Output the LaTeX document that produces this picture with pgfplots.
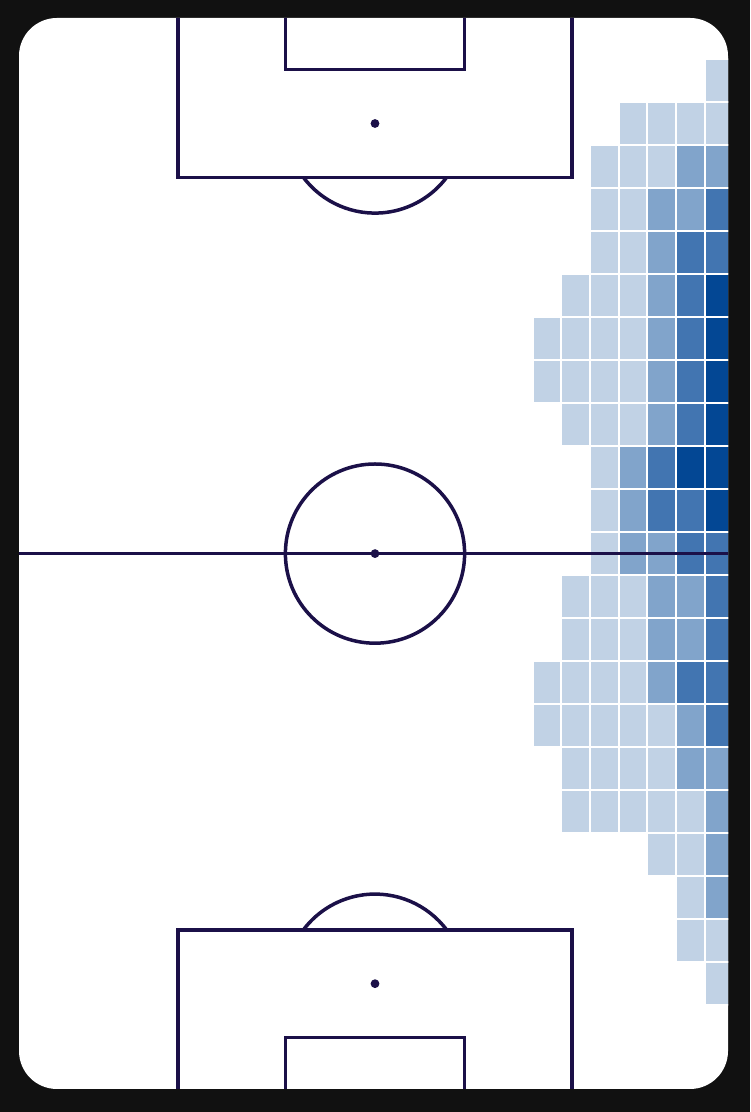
\documentclass[border=0pt]{standalone}
\usepackage{pgfplots}
\pgfplotsset{compat=1.18}
\definecolor{bg}{HTML}{111111}
\definecolor{pline}{HTML}{1B1048}
\definecolor{hA}{HTML}{C1D2E5}
\definecolor{hB}{HTML}{81A4CB}
\definecolor{hC}{HTML}{4275B1}
\definecolor{hD}{HTML}{034794}
% heatmap cell: 3.2 x 4.8 pitch units at 4.48pt per unit
\pgfdeclareplotmark{cell}{%
  \pgfpathrectangle{\pgfpoint{-7.168pt}{-10.752pt}}{\pgfpoint{14.336pt}{21.504pt}}%
  \pgfusepathqfillstroke}
\begin{document}
\begin{tikzpicture}
\useasboundingbox (0,0) rectangle (375pt,556pt);
\fill[bg] (0,0) rectangle (375pt,556pt);
\fill[white, rounded corners=19pt] (9.5pt,11.5pt) rectangle (364pt,547pt);
\begin{scope}
\clip[rounded corners=19pt] (9.5pt,11.5pt) rectangle (364pt,547pt);
\begin{axis}[at={(8.3pt,10.4pt)}, anchor=south west,
  x=4.48pt, y=4.48pt, xmin=0, xmax=80, ymin=0, ymax=120,
  hide axis, clip=false,
  every axis plot/.append style={only marks, mark=cell}]
% level 1 (lightest)
\addplot[mark options={fill=hA, draw=white, line width=1pt}] coordinates {
(78.4,112.8)
(68.8,108.0) (72.0,108.0) (75.2,108.0) (78.4,108.0)
(65.6,103.2) (68.8,103.2) (72.0,103.2)
(65.6,98.4) (68.8,98.4)
(65.6,93.6) (68.8,93.6)
(62.4,88.8) (65.6,88.8) (68.8,88.8)
(59.2,84.0) (62.4,84.0) (65.6,84.0) (68.8,84.0)
(59.2,79.2) (62.4,79.2) (65.6,79.2) (68.8,79.2)
(62.4,74.4) (65.6,74.4) (68.8,74.4)
(65.6,69.6)
(65.6,64.8)
(65.6,60.0)
(62.4,55.2) (65.6,55.2) (68.8,55.2)
(62.4,50.4) (65.6,50.4) (68.8,50.4)
(59.2,45.6) (62.4,45.6) (65.6,45.6) (68.8,45.6)
(59.2,40.8) (62.4,40.8) (65.6,40.8) (68.8,40.8) (72.0,40.8)
(62.4,36.0) (65.6,36.0) (68.8,36.0) (72.0,36.0)
(62.4,31.2) (65.6,31.2) (68.8,31.2) (72.0,31.2) (75.2,31.2)
(72.0,26.4) (75.2,26.4)
(75.2,21.6)
(75.2,16.8) (78.4,16.8)
(78.4,12.0)
};
% level 2
\addplot[mark options={fill=hB, draw=white, line width=1pt}] coordinates {
(75.2,103.2) (78.4,103.2)
(72.0,98.4) (75.2,98.4)
(72.0,93.6)
(72.0,88.8)
(72.0,84.0)
(72.0,79.2)
(72.0,74.4)
(68.8,69.6)
(68.8,64.8)
(68.8,60.0) (72.0,60.0)
(72.0,55.2) (75.2,55.2)
(72.0,50.4) (75.2,50.4)
(72.0,45.6)
(75.2,40.8)
(75.2,36.0) (78.4,36.0)
(78.4,31.2)
(78.4,26.4)
(78.4,21.6)
};
% level 3
\addplot[mark options={fill=hC, draw=white, line width=1pt}] coordinates {
(78.4,98.4)
(75.2,93.6) (78.4,93.6)
(75.2,88.8)
(75.2,84.0)
(75.2,79.2)
(75.2,74.4)
(72.0,69.6)
(72.0,64.8) (75.2,64.8)
(75.2,60.0) (78.4,60.0)
(78.4,55.2)
(78.4,50.4)
(75.2,45.6) (78.4,45.6)
(78.4,40.8)
};
% level 4 (darkest)
\addplot[mark options={fill=hD, draw=white, line width=1pt}] coordinates {
(78.4,88.8)
(78.4,84.0)
(78.4,79.2)
(78.4,74.4)
(75.2,69.6) (78.4,69.6)
(78.4,64.8)
};
\end{axis}
% pitch markings, in pitch units (same origin and scale as the axis)
\begin{scope}[shift={(8.3pt,10.4pt)}, x=4.48pt, y=4.48pt,
  draw=pline, line width=1.75pt]
\draw[pline, line width=1.75pt] (0,60) -- (80,60);
\draw[pline, line width=1.75pt] (40,60) circle[radius=44.8pt];
\fill[pline] (40,60) circle[radius=2.2pt];
% top end
\draw[pline, line width=1.75pt] (18,122) -- (18,102) -- (62,102) -- (62,122);
\draw[pline, line width=1.75pt] (30,122) -- (30,114) -- (50,114) -- (50,122);
\fill[pline] (40,108) circle[radius=2.2pt];
\draw[pline, line width=1.75pt] (32,102) arc[start angle=216.87, end angle=323.13, radius=44.8pt];
% bottom end
\draw[pline, line width=1.75pt] (18,-2) -- (18,18) -- (62,18) -- (62,-2);
\draw[pline, line width=1.75pt] (30,-2) -- (30,6) -- (50,6) -- (50,-2);
\fill[pline] (40,12) circle[radius=2.2pt];
\draw[pline, line width=1.75pt] (48,18) arc[start angle=36.87, end angle=143.13, radius=44.8pt];
\end{scope}
\end{scope}
\end{tikzpicture}
\end{document}
